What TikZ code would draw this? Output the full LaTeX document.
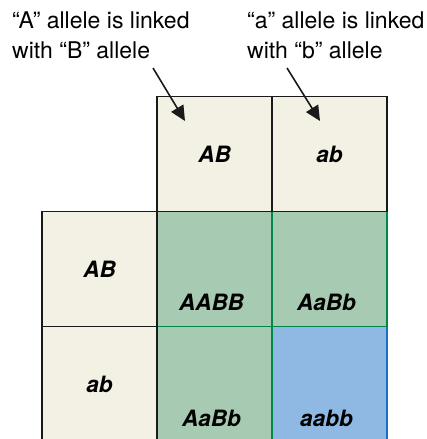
\documentclass[tikz,border=0pt]{standalone}
\usepackage{fontspec}
\setmainfont{TeX Gyre Heros}
\definecolor{gCream}{HTML}{F3F0E4}
\definecolor{gGreen}{HTML}{A6CBB2}
\definecolor{gBlue}{HTML}{8FB9E2}
\definecolor{gDark}{HTML}{1A1A1A}
\definecolor{gGreenLine}{HTML}{00874A}
\definecolor{gBlueLine}{HTML}{1B6EC2}
\usetikzlibrary{arrows.meta}

\begin{document}
\begin{tikzpicture}[x=1pt, y=1pt, font=\fontsize{23}{30}\selectfont,
  cell/.style={minimum width=115pt, minimum height=115pt, inner sep=0pt, outer sep=0pt, line width=1.2pt},
  gamete/.style={cell, draw=gDark, fill=gCream, font=\fontsize{22.5}{30}\selectfont\bfseries\itshape},
  geno/.style={cell, draw=gGreenLine, fill=gGreen},
  genoblue/.style={cell, draw=gBlueLine, fill=gBlue},
  genotxt/.style={anchor=base, inner sep=0pt, font=\fontsize{22.5}{30}\selectfont\bfseries\itshape},
  note/.style={anchor=north west, inner sep=0pt, align=left}]
\useasboundingbox (0,0) rectangle (427,-439);
% offspring cells (blue first, then green, so the borders overlap right)
\node[genoblue] (aabb) at (329.5,-384.2) {};
\node[geno] (AABB) at (214.5,-269.2) {};
\node[geno] (AaBbR) at (329.5,-269.2) {};
\node[geno] (AaBbB) at (214.5,-384.2) {};
% gametes
\node[gamete] (topAB) at (214.5,-154.2) {AB};
\node[gamete] (topab) at (329.5,-154.2) {ab};
\node[gamete] (leftAB) at (99.5,-269.2) {AB};
\node[gamete] (leftab) at (99.5,-384.2) {ab};
% genotypes
\node[genotxt] at ([xshift=-3pt,yshift=16pt]AABB.south) {AABB};
\node[genotxt] at ([xshift=-3pt,yshift=16pt]AaBbR.south) {AaBb};
\node[genotxt] at ([xshift=-3pt,yshift=15pt]AaBbB.south) {AaBb};
\node[genotxt] at ([xshift=-3pt,yshift=15pt]aabb.south) {aabb};
% linkage notes
\node[note] (noteAB) at (12,-12) {“A” allele is linked\\with “B” allele};
\node[note] (noteab) at (247,-12) {“a” allele is linked\\with “b” allele};
% linkage arrows
\coordinate (fromAB) at (153,-68);
\coordinate (fromab) at (287,-68);
\coordinate (tipAB) at (185,-121);
\coordinate (tipab) at (320,-121);
\draw[-{Triangle[length=15pt,width=14pt]}, line width=1.6pt, gDark] (fromAB) -- (tipAB);
\draw[-{Triangle[length=15pt,width=14pt]}, line width=1.6pt, gDark] (fromab) -- (tipab);
\end{tikzpicture}
\end{document}
